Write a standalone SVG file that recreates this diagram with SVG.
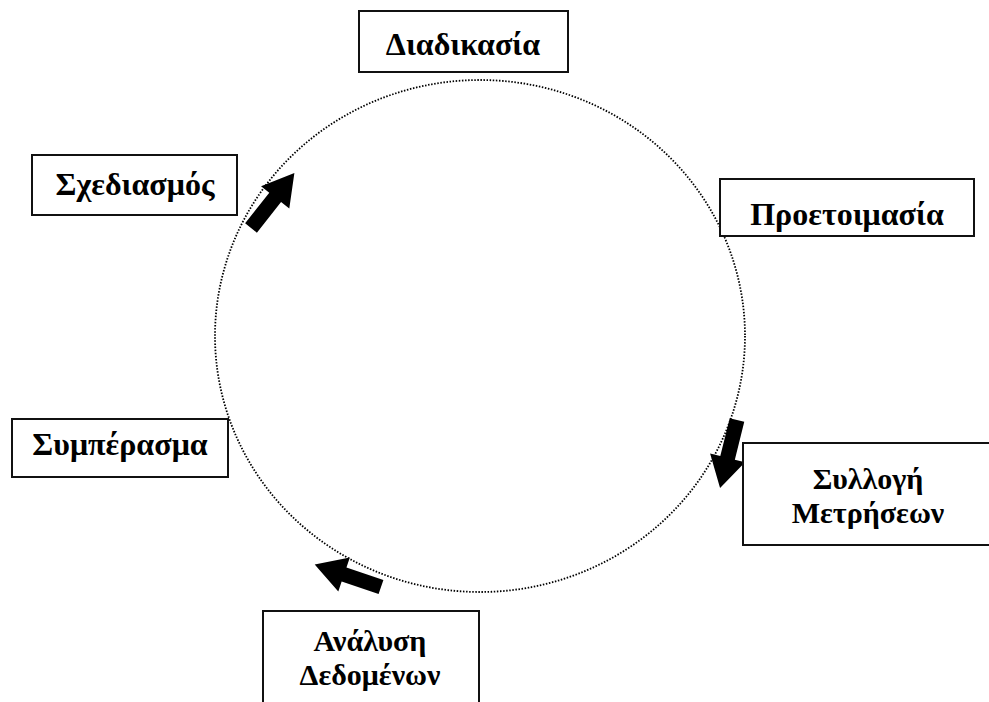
<svg xmlns="http://www.w3.org/2000/svg" xmlns:xlink="http://www.w3.org/1999/xlink" width="989" height="702" viewBox="0 0 989 702">
<style>
.box{fill:#fff;stroke:#111;stroke-width:2}
.lbl{font-family:"Liberation Serif","Times New Roman",serif;font-weight:bold;font-size:32px;fill:#000;text-anchor:middle}
.two{font-size:30px}
.cyc{fill:none;stroke:#000;stroke-width:1.8;stroke-dasharray:1.5 1.6}
</style>
<defs>
<path id="blk" d="M0,-7.5 L39,-7.5 L39,-18 L70,0 L39,18 L39,7.5 L0,7.5 Z" fill="#000"/>
</defs>
<rect width="989" height="702" fill="#fff"/>
<g id="connectors">
<ellipse class="cyc" cx="480" cy="336" rx="265" ry="256"/>
<use xlink:href="#blk" transform="translate(251,228) rotate(-51.7)"/>
<use xlink:href="#blk" transform="translate(737,420) rotate(104)"/>
<use xlink:href="#blk" transform="translate(381,587) rotate(-161.3)"/>
</g>
<g id="n-diadikasia">
<rect class="box" x="359" y="11" width="209" height="61"/>
<text class="lbl" x="463" y="55">Διαδικασία</text>
</g>
<g id="n-proetoimasia">
<rect class="box" x="720" y="179" width="254" height="57"/>
<text class="lbl" x="847" y="225">Προετοιμασία</text>
</g>
<g id="n-syllogi">
<rect class="box" x="743" y="443" width="270" height="102"/>
<text class="lbl two" x="868" y="489">Συλλογή</text>
<text class="lbl two" x="868" y="523">Μετρήσεων</text>
</g>
<g id="n-analysi">
<rect class="box" x="263" y="611" width="216" height="120"/>
<text class="lbl two" x="370" y="651">Ανάλυση</text>
<text class="lbl two" x="370" y="685">Δεδομένων</text>
</g>
<g id="n-symperasma">
<rect class="box" x="12" y="419" width="216" height="58"/>
<text class="lbl" x="120" y="455">Συμπέρασμα</text>
</g>
<g id="n-sxediasmos">
<rect class="box" x="32" y="155" width="205" height="60"/>
<text class="lbl" x="135" y="195">Σχεδιασμός</text>
</g>
</svg>
